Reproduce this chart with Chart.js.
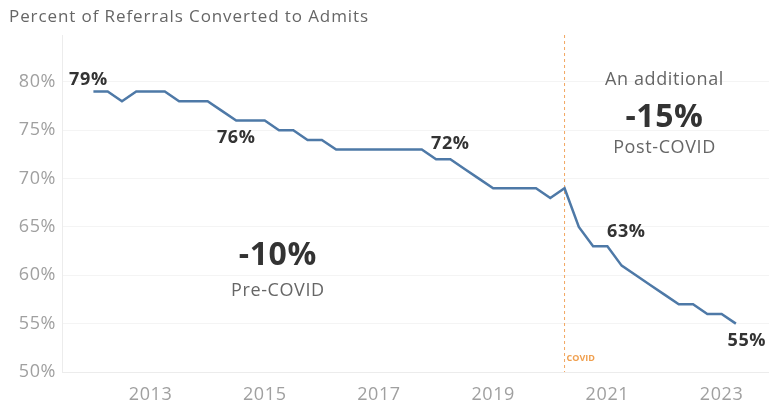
<!DOCTYPE html>
<html>
<head>
<meta charset="utf-8">
<script src="https://cdn.jsdelivr.net/npm/chart.js@4"></script>
<style>
  html, body { margin: 0; padding: 0; background: #fff; }
  #wrap { width: 769px; height: 401px; }
</style>
</head>
<body>
<div id="wrap"><canvas id="chart" width="769" height="401"></canvas></div>
<script>
// Quarterly conversion rate, referrals -> admits
const quarters = [
  '2012 Q1', '2012 Q2', '2012 Q3', '2012 Q4', '2013 Q1', '2013 Q2', '2013 Q3', '2013 Q4',
  '2014 Q1', '2014 Q2', '2014 Q3', '2014 Q4', '2015 Q1', '2015 Q2', '2015 Q3', '2015 Q4',
  '2016 Q1', '2016 Q2', '2016 Q3', '2016 Q4', '2017 Q1', '2017 Q2', '2017 Q3', '2017 Q4',
  '2018 Q1', '2018 Q2', '2018 Q3', '2018 Q4', '2019 Q1', '2019 Q2', '2019 Q3', '2019 Q4',
  '2020 Q1', '2020 Q2', '2020 Q3', '2020 Q4', '2021 Q1', '2021 Q2', '2021 Q3', '2021 Q4',
  '2022 Q1', '2022 Q2', '2022 Q3', '2022 Q4', '2023 Q1', '2023 Q2'
];
const conversionRate = [
  79, 79, 78, 79, 79, 79, 78, 78, 78, 77,
  76, 76, 76, 75, 75, 74, 74, 73, 73, 73,
  73, 73, 73, 73, 72, 72, 71, 70, 69, 69,
  69, 69, 68, 69, 65, 63, 63, 61, 60, 59,
  58, 57, 57, 56, 56, 55
];
const yearTicks = [2013, 2015, 2017, 2019, 2021, 2023];
const percentTicks = [50, 55, 60, 65, 70, 75, 80];
const covidQuarter = '2020 Q2';

// which points get a value label, and where it sits relative to the point
const labelledPoints = [
  { index: 0,  dx: -5, dy: -12 },
  { index: 10, dx: 0,  dy: 17 },
  { index: 25, dx: 0,  dy: -15 },
  { index: 36, dx: 19, dy: -14 },
  { index: 45, dx: 11, dy: 17 }
];

const toYear = q => {
  const [y, qq] = q.split(' Q');
  return Number(y) + (Number(qq) - 1) / 4;
};
const points = quarters.map((q, i) => ({ x: toYear(q), y: conversionRate[i] }));

const FONT = '"Open Sans", "Noto Sans", sans-serif';

const overlay = {
  id: 'overlay',
  beforeDraw(chart) {
    // slightly looser tracking for every label on the canvas
    chart.ctx.letterSpacing = '0.6px';
  },
  beforeDatasetsDraw(chart) {
    const { ctx, chartArea, scales } = chart;
    const cx = scales.x.getPixelForValue(toYear(covidQuarter));
    ctx.save();
    ctx.strokeStyle = '#f2a660';
    ctx.lineWidth = 1;
    ctx.setLineDash([3, 3]);
    ctx.beginPath();
    ctx.moveTo(cx, chartArea.top);
    ctx.lineTo(cx, chartArea.bottom);
    ctx.stroke();
    ctx.setLineDash([]);
    ctx.letterSpacing = '0px';
    ctx.fillStyle = '#f0a050';
    ctx.font = 'bold 9px ' + FONT;
    ctx.textAlign = 'left';
    ctx.textBaseline = 'middle';
    ctx.fillText('COVID', cx + 2, chartArea.bottom - 14);
    ctx.restore();
  },
  afterDatasetsDraw(chart) {
    const { ctx, scales } = chart;
    const x = scales.x, y = scales.y;
    ctx.save();
    ctx.textBaseline = 'middle';

    // chart title
    ctx.letterSpacing = '0.9px';
    ctx.fillStyle = '#666';
    ctx.font = '17px ' + FONT;
    ctx.textAlign = 'left';
    ctx.fillText('Percent of Referrals Converted to Admits', 9, 17);
    ctx.textAlign = 'center';

    // value labels on selected points
    ctx.letterSpacing = '0.6px';
    ctx.fillStyle = '#333';
    ctx.font = 'bold 18px ' + FONT;
    labelledPoints.forEach(p => {
      const pt = points[p.index];
      ctx.fillText(pt.y + '%', x.getPixelForValue(pt.x) + p.dx, y.getPixelForValue(pt.y) + p.dy);
    });

    // period summaries
    const preX = x.getPixelForValue(2015.23);
    ctx.font = 'bold 32px ' + FONT;
    ctx.fillText('-10%', preX, y.getPixelForValue(62.0));
    ctx.font = '18px ' + FONT;
    ctx.fillStyle = '#666';
    ctx.fillText('Pre-COVID', preX, y.getPixelForValue(58.4));

    const postX = x.getPixelForValue(2022.0);
    ctx.fillText('An additional', postX, y.getPixelForValue(80.25));
    ctx.fillText('Post-COVID', postX, y.getPixelForValue(73.2));
    ctx.fillStyle = '#333';
    ctx.font = 'bold 32px ' + FONT;
    ctx.fillText('-15%', postX, y.getPixelForValue(76.3));
    ctx.restore();
  }
};

new Chart(document.getElementById('chart').getContext('2d'), {
  type: 'line',
  data: {
    datasets: [{
      label: 'Conversion rate',
      data: points,
      borderColor: '#4e79a7',
      borderWidth: 2.5,
      pointRadius: 0,
      tension: 0,
      fill: false
    }]
  },
  options: {
    responsive: false,
    animation: false,
    layout: { padding: { top: 35, left: 0, right: 0, bottom: 0 } },
    plugins: {
      legend: { display: false },
      tooltip: { enabled: false }
    },
    scales: {
      x: {
        type: 'linear',
        min: 2011.45,
        max: 2023.83,
        afterBuildTicks: s => { s.ticks = yearTicks.map(v => ({ value: v })); },
        afterFit: s => { s.height = 29; },
        grid: { display: false },
        border: { color: '#ececec' },
        ticks: {
          color: '#a0a0a0',
          font: { family: FONT, size: 18 },
          padding: 4,
          callback: v => String(v)
        }
      },
      y: {
        min: 50,
        max: 84.85,
        afterBuildTicks: s => { s.ticks = percentTicks.map(v => ({ value: v })); },
        afterFit: s => { s.width = 62; },
        grid: { color: '#f4f4f4', drawTicks: false },
        border: { color: '#ececec' },
        ticks: {
          color: '#a0a0a0',
          font: { family: FONT, size: 18 },
          padding: 6,
          callback: v => v + '%'
        }
      }
    }
  },
  plugins: [overlay]
});
</script>
</body>
</html>
